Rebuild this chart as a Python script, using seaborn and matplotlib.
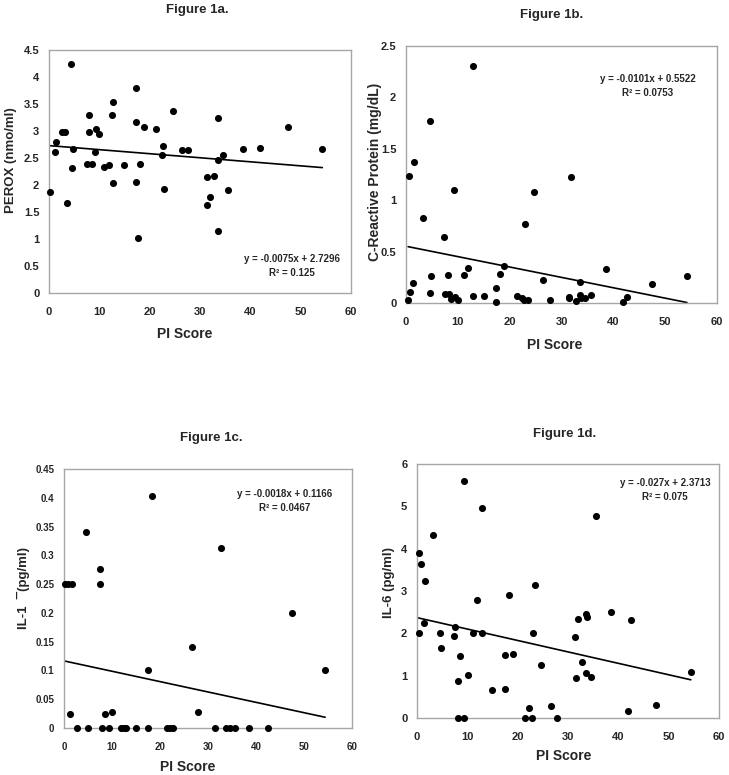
import numpy as np
import pandas as pd
import matplotlib
matplotlib.use("Agg")
import matplotlib.pyplot as plt
import seaborn as sns


# 1. Data (PI Score vs each marker)
pi_a = [0.26, 1.2, 1.4, 2.6, 3.2, 3.5, 4.4, 4.7, 4.6, 7.5, 7.9, 8.0, 8.5, 9.3, 9.1, 10.0,
        10.9, 11.9, 12.5, 12.8, 12.8, 14.9, 17.2, 17.3, 17.3, 17.7, 18.1, 18.8, 21.3, 22.4,
        22.7, 22.9, 24.6, 26.4, 27.7, 31.3, 31.4, 31.9, 32.8, 33.5, 33.6, 33.5, 34.5, 35.5,
        38.5, 42.0, 47.5, 54.3]
perox = [1.87, 2.61, 2.80, 2.99, 2.99, 1.67, 4.25, 2.66, 2.31, 2.39, 3.29, 2.98, 2.39, 3.03,
         2.61, 2.95, 2.34, 2.37, 3.29, 3.53, 2.04, 2.37, 3.79, 3.16, 2.05, 1.02, 2.39, 3.08,
         3.03, 2.56, 2.72, 1.92, 3.37, 2.64, 2.64, 2.14, 1.63, 1.77, 2.17, 3.24, 2.47, 1.14,
         2.56, 1.90, 2.66, 2.69, 3.08, 2.66]

pi_b = [0.4, 0.5, 0.7, 1.3, 1.6, 3.3, 4.6, 4.7, 4.9, 7.4, 7.6, 8.1, 8.2, 8.6, 9.2, 9.4,
        10.1, 11.1, 12.0, 12.9, 12.9, 15.0, 17.4, 17.4, 18.2, 18.9, 21.4, 22.3, 22.7, 23.5,
        23.0, 24.6, 26.5, 27.8, 31.4, 31.4, 31.9, 32.8, 33.5, 33.6, 33.8, 34.5, 35.6, 38.5,
        41.9, 42.6, 47.4, 54.2]
crp = [0.03, 1.24, 0.11, 0.19, 1.37, 0.83, 0.10, 1.77, 0.26, 0.64, 0.09, 0.27, 0.09, 0.04,
       1.10, 0.06, 0.03, 0.27, 0.34, 2.31, 0.07, 0.07, 0.15, 0.01, 0.28, 0.36, 0.07, 0.05,
       0.03, 0.03, 0.77, 1.08, 0.22, 0.03, 0.05, 0.06, 1.23, 0.02, 0.20, 0.08, 0.05, 0.05,
       0.08, 0.33, 0.01, 0.06, 0.18, 0.26]

pi_c = [0.3, 0.8, 1.6, 1.2, 2.8, 4.6, 4.9, 7.4, 7.5, 8.0, 8.6, 9.4, 10.1, 11.9, 12.4, 12.9,
        15.0, 17.5, 17.5, 18.3, 21.4, 22.1, 22.8, 26.6, 27.9, 31.5, 32.8, 33.7, 34.5, 35.7,
        38.6, 42.6, 47.6, 54.4]
il1 = [0.25, 0.25, 0.25, 0.025, 0.0, 0.34, 0.0, 0.25, 0.276, 0.0, 0.025, 0.0, 0.027, 0.0,
       0.0, 0.0, 0.0, 0.10, 0.0, 0.403, 0.0, 0.0, 0.0, 0.141, 0.027, 0.0, 0.312, 0.0, 0.0,
       0.0, 0.0, 0.0, 0.20, 0.10]

pi_d = [0.3, 0.4, 0.7, 1.3, 1.5, 3.2, 4.6, 4.8, 7.4, 7.6, 8.1, 8.2, 8.6, 9.3, 9.3, 10.1,
        11.1, 12.0, 12.9, 12.9, 15.0, 17.4, 17.4, 18.2, 19.0, 21.4, 22.3, 22.8, 23.1, 23.4,
        24.6, 26.6, 27.8, 31.4, 31.5, 31.9, 32.8, 33.6, 33.6, 33.7, 34.5, 35.5, 38.6, 42.6,
        42.0, 47.5, 54.4]
il6 = [2.0, 3.9, 3.63, 2.24, 3.24, 4.32, 2.0, 1.66, 1.94, 2.16, 0.0, 0.88, 1.46, 5.61, 0.0,
       1.01, 2.0, 2.78, 4.97, 2.0, 0.65, 0.69, 1.49, 2.91, 1.52, 0.0, 0.23, 0.0, 2.0, 3.14,
       1.26, 0.29, 0.0, 1.92, 0.94, 2.34, 1.32, 1.07, 2.45, 2.38, 0.96, 4.78, 2.51, 2.31,
       0.17, 0.30, 1.09]

# trendline coefficients printed on each panel
slopes = [-0.0075, -0.0101, -0.0018, -0.027]
intercepts = [2.7296, 0.5522, 0.1166, 2.3713]
r2_labels = ["0.125", "0.0753", "0.0467", "0.075"]
eq_labels = ["y = -0.0075x + 2.7296", "y = -0.0101x + 0.5522",
             "y = -0.0018x + 0.1166", "y = -0.027x + 2.3713"]
titles = ["Figure 1a.", "Figure 1b.", "Figure 1c.", "Figure 1d."]
ylabels = ["PEROX (nmo/ml)", "C-Reactive Protein (mg/dL)", "IL-1  \u00af(pg/ml)", "IL-6 (pg/ml)"]
y_tops = [4.5, 2.5, 0.45, 6]
y_steps = [0.5, 0.5, 0.05, 1]


# 2. Style
sns.set_style("white")
plt.rcParams["font.family"] = ["Liberation Sans", "DejaVu Sans"]
plt.rcParams["font.weight"] = "bold"

W, H = 729, 775
fig = plt.figure(figsize=(W / 100, H / 100), dpi=100)


def px_text(x, y, s, **kw):
    fig.text(x / W, 1 - y / H, s, ha="center", va="center", fontweight="bold", **kw)


# axes boxes in pixels: left, top, right, bottom
boxes = [(49, 50, 351, 293), (406, 46, 717, 303), (64, 469, 352, 728), (417, 464, 719, 718)]
title_pos = [(197, 10), (552, 15), (211, 438), (565, 434)]
xlabel_pos = [(185, 334), (555, 345), (188, 767), (564, 756)]
ylabel_pos = [(11, 160), (375, 172), (23, 588), (389, 582)]
ylabel_sizes = [9.5, 10, 9.5, 9.5]
eq_pos = [(292, 259), (648, 79), (285, 494), (665, 483)]
tick_sizes = [8, 8, 7, 8]

datasets = [(pi_a, perox), (pi_b, crp), (pi_c, il1), (pi_d, il6)]

# 3. Draw each panel
for i, (xs, ys) in enumerate(datasets):
    l, t, r, b = boxes[i]
    ax = fig.add_axes([l / W, 1 - b / H, (r - l) / W, (b - t) / H])
    df = pd.DataFrame({"pi": xs, "val": ys})

    sns.scatterplot(data=df, x="pi", y="val", ax=ax, color="black", s=26,
                    linewidth=0, clip_on=False, zorder=3)

    # Excel-style trendline over the data range
    line_x = np.array([df["pi"].min(), df["pi"].max()])
    line_df = pd.DataFrame({"pi": line_x, "val": slopes[i] * line_x + intercepts[i]})
    sns.lineplot(data=line_df, x="pi", y="val", ax=ax, color="black", linewidth=1.2)

    ax.set_xlim(0, 60)
    ax.set_ylim(0, y_tops[i])
    ax.set_xticks(np.arange(0, 61, 10))
    ax.set_yticks(np.arange(0, y_tops[i] + y_steps[i] / 2, y_steps[i]))
    ax.yaxis.set_major_formatter(matplotlib.ticker.FuncFormatter(lambda v, p: f"{v:g}"))
    ax.set_xlabel("")
    ax.set_ylabel("")

    for sp in ax.spines.values():
        sp.set_color("#a6a6a6")
        sp.set_linewidth(1)
    ax.tick_params(axis="both", direction="out", length=4, width=1, color="#a6a6a6",
                   labelsize=tick_sizes[i], pad=3)
    ax.tick_params(axis="x", pad=6)
    for lab in ax.get_xticklabels() + ax.get_yticklabels():
        lab.set_fontweight("bold")

    px_text(*title_pos[i], titles[i], fontsize=9.5)
    px_text(*xlabel_pos[i], "PI Score", fontsize=10)
    px_text(*ylabel_pos[i], ylabels[i], fontsize=ylabel_sizes[i], rotation=90)
    ex, ey = eq_pos[i]
    px_text(ex, ey, eq_labels[i], fontsize=7)
    px_text(ex, ey + 14, "R\u00b2 = " + r2_labels[i], fontsize=7)

fig.savefig("out.png", dpi=100)
